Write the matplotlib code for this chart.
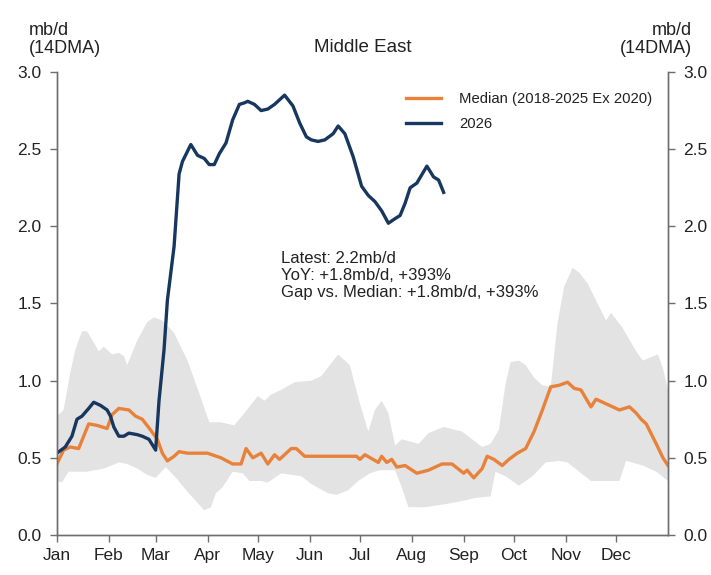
# Middle East flows: 2026 vs historical median and range
import numpy as np
import pandas as pd
import matplotlib
matplotlib.use('Agg')
import matplotlib.pyplot as plt

plt.rcParams['font.family'] = ['Liberation Sans', 'DejaVu Sans']

# --- data (day of year, mb/d 14DMA) ---
month_labels = ['Jan', 'Feb', 'Mar', 'Apr', 'May', 'Jun',
                'Jul', 'Aug', 'Sep', 'Oct', 'Nov', 'Dec']

days_2026 = [0, 5, 9, 12, 15, 19, 22, 26, 30, 32, 34, 37, 40, 43, 48, 51, 55, 59,
             61, 64, 66, 70, 73, 75, 80, 84, 88, 91, 94, 97, 101, 105, 109, 112,
             114, 118, 122, 126, 130, 136, 141, 145, 149, 152, 156, 160, 165, 168,
             172, 177, 182, 186, 190, 194, 198, 202, 205, 208, 211, 215, 221, 225,
             228, 231]
vals_2026 = [0.53, 0.57, 0.64, 0.75, 0.77, 0.82, 0.86, 0.84, 0.81, 0.77, 0.70, 0.64,
             0.64, 0.66, 0.65, 0.64, 0.62, 0.55, 0.87, 1.20, 1.52, 1.87, 2.34, 2.42,
             2.53, 2.46, 2.44, 2.40, 2.40, 2.47, 2.54, 2.69, 2.79, 2.80, 2.81, 2.79,
             2.75, 2.76, 2.79, 2.85, 2.78, 2.67, 2.58, 2.56, 2.55, 2.56, 2.60, 2.65,
             2.60, 2.45, 2.26, 2.20, 2.16, 2.10, 2.02, 2.05, 2.07, 2.15, 2.25, 2.28,
             2.39, 2.32, 2.30, 2.22]

days_median = [0, 4, 8, 13, 19, 24, 30, 33, 37, 43, 47, 51, 56, 60, 63, 66, 70, 73,
               78, 90, 98, 105, 110, 113, 117, 122, 126, 130, 133, 140, 143, 148,
               179, 181, 184, 192, 194, 197, 200, 203, 208, 215, 222, 230, 236, 243,
               245, 249, 254, 257, 261, 266, 270, 275, 280, 285, 290, 295, 300, 305,
               309, 313, 319, 322, 330, 336, 342, 346, 349, 352, 358, 362, 365]
vals_median = [0.46, 0.55, 0.57, 0.56, 0.72, 0.71, 0.69, 0.78, 0.82, 0.81, 0.77, 0.75,
               0.68, 0.62, 0.53, 0.48, 0.51, 0.54, 0.53, 0.53, 0.50, 0.46, 0.46, 0.56,
               0.50, 0.53, 0.46, 0.52, 0.49, 0.56, 0.56, 0.51, 0.51, 0.49, 0.52, 0.47,
               0.51, 0.47, 0.49, 0.44, 0.45, 0.40, 0.42, 0.46, 0.46, 0.40, 0.42, 0.37,
               0.43, 0.51, 0.49, 0.45, 0.49, 0.53, 0.56, 0.67, 0.81, 0.96, 0.97, 0.99,
               0.95, 0.94, 0.83, 0.88, 0.84, 0.81, 0.83, 0.79, 0.75, 0.72, 0.59, 0.50,
               0.45]

days_upper = [0, 4, 8, 11, 15, 18, 23, 25, 28, 33, 37, 40, 42, 48, 54, 58, 63, 70,
              78, 84, 91, 98, 106, 112, 120, 124, 128, 134, 142, 152, 158, 168, 175,
              181, 186, 190, 194, 198, 202, 206, 216, 222, 231, 242, 254, 259, 264,
              268, 271, 276, 280, 285, 290, 295, 299, 303, 308, 312, 317, 322, 328,
              331, 338, 346, 350, 359, 362, 365]
vals_upper = [0.77, 0.81, 1.05, 1.20, 1.32, 1.32, 1.23, 1.19, 1.22, 1.17, 1.18, 1.16,
              1.10, 1.26, 1.38, 1.41, 1.39, 1.31, 1.13, 0.95, 0.73, 0.73, 0.71, 0.79,
              0.90, 0.87, 0.91, 0.94, 0.99, 1.00, 1.03, 1.17, 1.10, 0.85, 0.67, 0.81,
              0.87, 0.79, 0.58, 0.62, 0.59, 0.66, 0.70, 0.67, 0.57, 0.59, 0.68, 0.98,
              1.12, 1.13, 1.10, 1.02, 0.97, 0.96, 1.37, 1.61, 1.73, 1.70, 1.63, 1.52,
              1.39, 1.44, 1.34, 1.19, 1.13, 1.17, 1.08, 0.94]

days_lower = [0, 3, 7, 18, 28, 37, 42, 48, 54, 59, 65, 72, 78, 88, 92, 95, 99, 105,
              111, 115, 122, 126, 134, 146, 152, 162, 167, 174, 180, 187, 193, 202,
              206, 210, 220, 232, 242, 250, 259, 262, 268, 276, 284, 292, 300, 305,
              312, 319, 326, 336, 340, 350, 358, 365]
vals_lower = [0.35, 0.34, 0.41, 0.41, 0.43, 0.47, 0.46, 0.43, 0.39, 0.37, 0.44, 0.36,
              0.28, 0.16, 0.18, 0.27, 0.31, 0.41, 0.40, 0.35, 0.35, 0.34, 0.40, 0.38,
              0.33, 0.27, 0.26, 0.29, 0.35, 0.40, 0.42, 0.42, 0.31, 0.18, 0.18, 0.20,
              0.22, 0.24, 0.25, 0.41, 0.38, 0.32, 0.38, 0.47, 0.48, 0.47, 0.41, 0.35,
              0.35, 0.35, 0.48, 0.45, 0.41, 0.35]

annotation = 'Latest: 2.2mb/d\nYoY: +1.8mb/d, +393%\nGap vs. Median: +1.8mb/d, +393%'

# --- styling ---
c_2026 = '#17375e'
c_median = '#e8823a'
c_band = '#e3e3e3'
c_text = '#222222'
c_spine = '#6e6e6e'

fig = plt.figure(figsize=(7.11, 5.75), dpi=100)
ax = fig.add_axes([0.080, 0.0696, 0.8595, 0.8052])

# range band drawn as a polygon: upper edge then lower edge reversed
band_x = np.r_[days_upper, days_lower[::-1]]
band_y = np.r_[vals_upper, vals_lower[::-1]]
ax.fill(band_x, band_y, color=c_band, linewidth=0, zorder=1)

ax.plot(days_median, vals_median, color=c_median, linewidth=2.4,
        label='Median (2018-2025 Ex 2020)', zorder=3)
ax.plot(days_2026, vals_2026, color=c_2026, linewidth=2.4,
        label='2026', zorder=4)

month_days = pd.date_range('2026-01-01', periods=12, freq='MS').dayofyear - 1
ax.set_xlim(0, 365)
ax.set_ylim(0, 3.0)
ax.set_xticks(month_days)
ax.set_xticklabels(month_labels)
yt = np.arange(0, 3.01, 0.5)
ax.set_yticks(yt)
ax.set_yticklabels([f'{v:.1f}' for v in yt])

ax2 = ax.twinx()
ax2.set_ylim(ax.get_ylim())
ax2.set_yticks(yt)
ax2.set_yticklabels([f'{v:.1f}' for v in yt])

for a in (ax, ax2):
    a.spines['top'].set_visible(False)
    for s in ('left', 'right', 'bottom'):
        a.spines[s].set_color(c_spine)
        a.spines[s].set_linewidth(1.0)
    a.tick_params(axis='both', colors=c_spine, labelcolor=c_text,
                  labelsize=12.5, length=5, width=1.0, direction='out')
    a.tick_params(axis='y', pad=6)
    a.tick_params(axis='x', pad=4.5)

ax.text(0.5, 1.035, 'Middle East', transform=ax.transAxes, ha='center',
        va='bottom', fontsize=13.5, color=c_text)
ax.text(-0.046, 1.033, 'mb/d\n(14DMA)', transform=ax.transAxes, ha='left',
        va='bottom', fontsize=13, color=c_text, linespacing=1.05)
ax.text(1.039, 1.033, 'mb/d\n(14DMA)', transform=ax.transAxes, ha='right',
        va='bottom', fontsize=13, color=c_text, linespacing=1.05,
        multialignment='right')

ax.text(0.367, 0.613, annotation, transform=ax.transAxes, ha='left', va='top',
        fontsize=12, color=c_text, linespacing=1.17)

leg = ax.legend(loc='upper left', bbox_to_anchor=(0.55, 0.985), frameon=False,
                fontsize=10.7, handlelength=2.35, handletextpad=1.2,
                labelspacing=0.75)
for t in leg.get_texts():
    t.set_color(c_text)

fig.savefig('out.png', dpi=100)
